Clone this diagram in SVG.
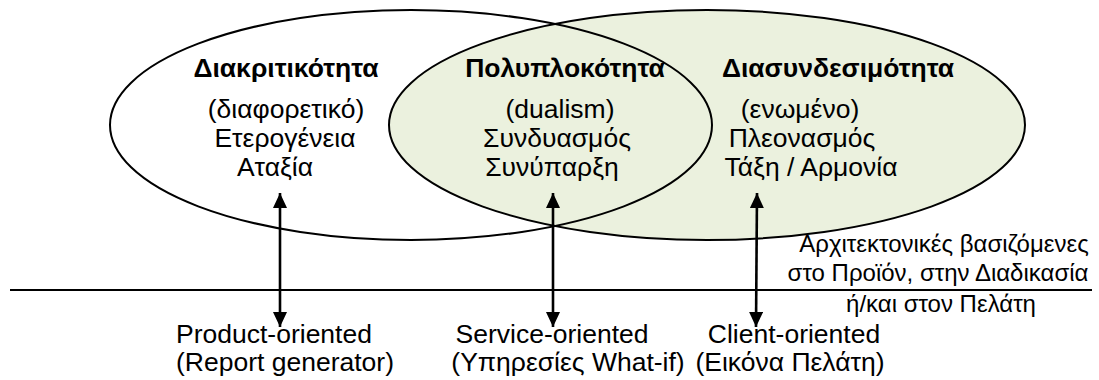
<svg xmlns="http://www.w3.org/2000/svg" width="1099" height="380" viewBox="0 0 1099 380">
  <style>
    .ell { stroke: #000; stroke-width: 2; }
    .title { font-family: "Liberation Sans", Arial, sans-serif; font-size: 26.5px; font-weight: bold; fill: #000; text-anchor: middle; }
    .txt { font-family: "Liberation Sans", Arial, sans-serif; font-size: 26.5px; fill: #000; text-anchor: middle; }
    .note { font-family: "Liberation Sans", Arial, sans-serif; font-size: 24px; fill: #000; text-anchor: middle; }
    .conn { stroke: #000; stroke-width: 2.6; fill: none; }
  </style>
  <defs>
    <marker id="head" viewBox="0 0 15 14" refX="15" refY="7" markerWidth="15" markerHeight="14" markerUnits="userSpaceOnUse" orient="auto-start-reverse">
      <path d="M0,0 L15,7 L0,14 Z" fill="#000"/>
    </marker>
  </defs>
  <rect width="1099" height="380" fill="#fff"/>

  <!-- right set (filled), drawn first so the left outline stays visible -->
  <g id="node-diasyndesimotita">
    <ellipse class="ell" cx="707" cy="125" rx="318" ry="115" fill="#ebf1de"/>
    <text class="title" x="838" y="77">Διασυνδεσιμότητα</text>
    <text class="txt" x="800" y="118">(ενωμένο)</text>
    <text class="txt" x="802" y="147">Πλεονασμός</text>
    <text class="txt" x="811" y="176">Τάξη / Αρμονία</text>
  </g>

  <g id="node-diakritikotita">
    <ellipse class="ell" cx="411" cy="125" rx="301" ry="115" fill="none"/>
    <text class="title" x="286" y="77">Διακριτικότητα</text>
    <text class="txt" x="286" y="118">(διαφορετικό)</text>
    <text class="txt" x="285" y="147">Ετερογένεια</text>
    <text class="txt" x="275" y="176">Αταξία</text>
  </g>

  <g id="node-polyplokotita">
    <text class="title" x="565" y="77">Πολυπλοκότητα</text>
    <text class="txt" x="560" y="118">(dualism)</text>
    <text class="txt" x="557" y="147">Συνδυασμός</text>
    <text class="txt" x="552" y="176">Συνύπαρξη</text>
  </g>

  <!-- divider between concepts and architectures -->
  <g id="divider">
    <line x1="10" y1="290" x2="1092" y2="290" stroke="#000" stroke-width="2"/>
    <text class="note" x="944" y="252">Αρχιτεκτονικές βασιζόμενες</text>
    <text class="note" x="938" y="281">στο Προϊόν, στην Διαδικασία</text>
    <text class="note" x="941" y="312">ή/και στον Πελάτη</text>
  </g>

  <g id="node-product">
    <text class="txt" x="274" y="343">Product-oriented</text>
    <text class="txt" x="285" y="371">(Report generator)</text>
  </g>
  <g id="node-service">
    <text class="txt" x="552" y="343">Service-oriented</text>
    <text class="txt" x="568" y="371">(Υπηρεσίες What-if)</text>
  </g>
  <g id="node-client">
    <text class="txt" x="794" y="343">Client-oriented</text>
    <text class="txt" x="790" y="371">(Εικόνα Πελάτη)</text>
  </g>

  <g id="connectors">
    <line class="conn" x1="280" y1="193" x2="280" y2="327" marker-start="url(#head)" marker-end="url(#head)"/>
    <line class="conn" x1="553" y1="193" x2="553" y2="327" marker-start="url(#head)" marker-end="url(#head)"/>
    <line class="conn" x1="757" y1="193" x2="756" y2="327" marker-start="url(#head)" marker-end="url(#head)"/>
  </g>
</svg>
